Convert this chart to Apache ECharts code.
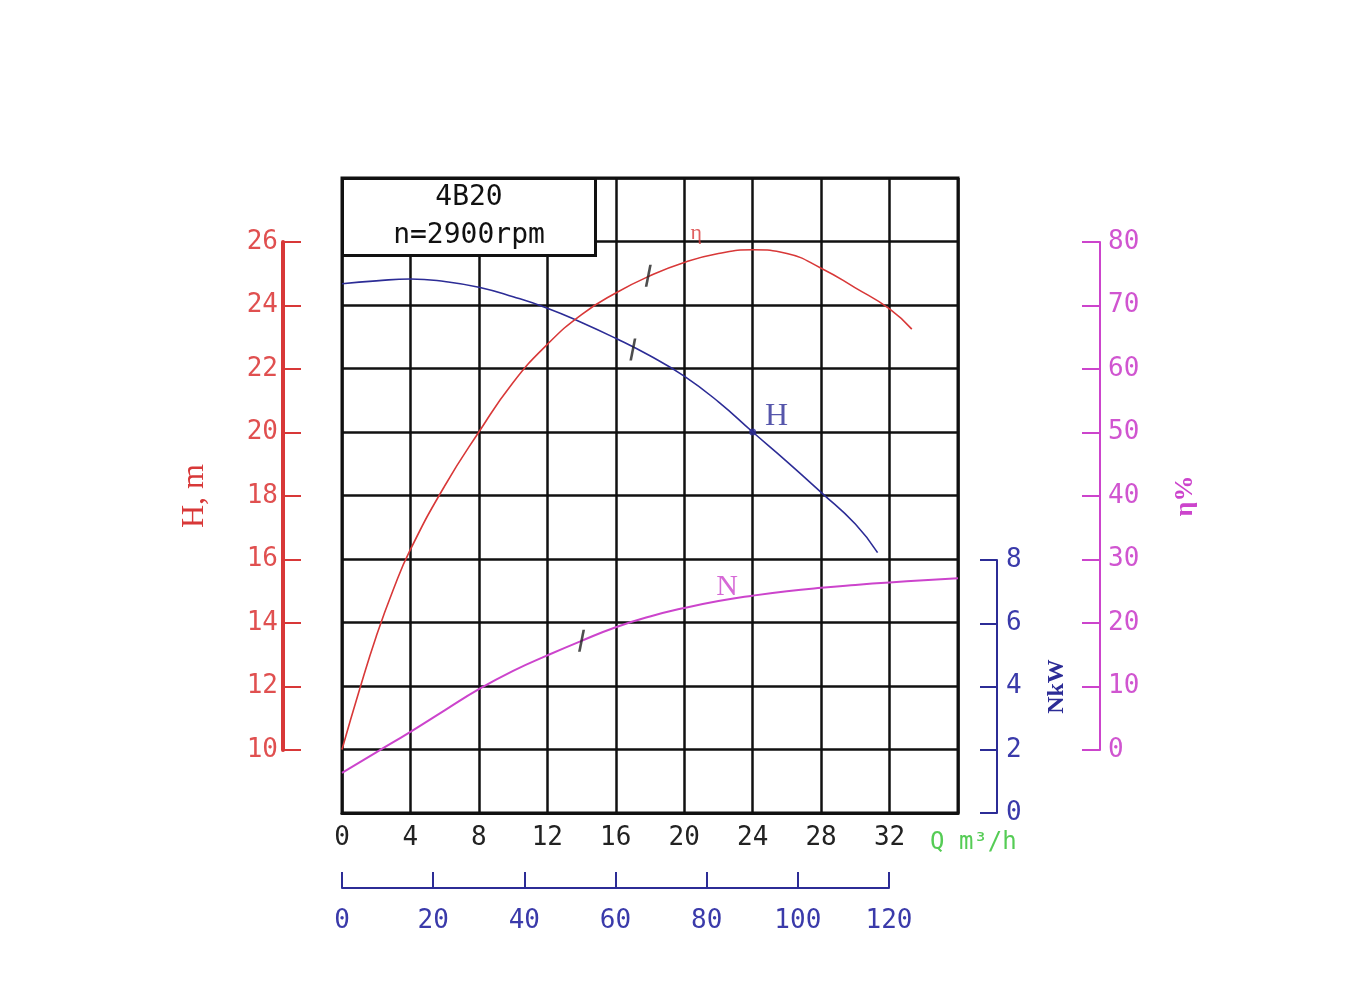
<!DOCTYPE html>
<html>
<head>
<meta charset="utf-8">
<title>4B20 performance curve</title>
<script src="https://cdn.jsdelivr.net/npm/echarts@6/dist/echarts.min.js"></script>
<style>
  html, body { margin: 0; padding: 0; background: #fff; }
  #chart { width: 1365px; height: 1000px; }
</style>
</head>
<body>
<div id="chart"></div>
<script>
// head H (m) against flow Q (m3/h)
const headQ = [0, 2, 4, 6, 8, 10, 12, 14, 16, 18, 20, 22, 24, 26, 28, 30, 31.3]
const headH = [24.67, 24.76, 24.82, 24.74, 24.56, 24.26, 23.9, 23.45, 22.95, 22.4, 21.76, 20.95, 20.0, 19.07, 18.1, 17.1, 16.2]

// efficiency eta (%)
const effQ = [0, 1, 2, 3, 4, 6, 8, 10, 12, 14, 16, 18, 20, 22, 24, 26, 28, 30, 32, 33.3]
const effEta = [0, 9.2, 17.8, 25.2, 31.5, 41.5, 50, 57.8, 63.8, 68.5, 71.9, 74.6, 76.7, 78.1, 78.7, 78.1, 75.8, 72.7, 69.4, 66.2]

// shaft power N (kW)
const powerQ = [0, 2, 4, 6, 8, 10, 12, 14, 16, 18, 20, 22, 24, 26, 28, 30, 32, 34, 36]
const powerN = [1.27, 1.92, 2.57, 3.25, 3.92, 4.5, 4.99, 5.45, 5.88, 6.22, 6.49, 6.71, 6.88, 7.02, 7.13, 7.22, 7.3, 7.37, 7.43]

// small duty-range marks on the curves [Q, value]
const headMark = [17.0, 22.6]
const effMark = [17.9, 74.6]
const powerMark = [14.0, 5.45]
const ratedPoint = [24, 20]

// curve names and where they sit [Q, value]
const headLabel = [25.4, 20.5]
const effLabel = [20.7, 81.3]
const powerLabel = [22.5, 7.15]

const mono = '"DejaVu Sans Mono", "Liberation Mono", monospace'
const serif = '"Liberation Serif", "DejaVu Serif", serif'
const red = '#d83838'
const blue = '#2c2c96'
const magenta = '#cc44cc'
const green = '#55cc55'

const zip = (xs, ys) => xs.map((x, i) => [x, ys[i]])
const markSymbol = 'path://M3,0L4.5,0L2,14L0.5,14Z'

const chart = echarts.init(document.getElementById('chart'))

const hiddenX = (gridIndex) => ({ gridIndex, type: 'value', show: false, min: 0, max: 1 })

const option = {
  backgroundColor: '#fff',
  animation: false,
  title: [
    {
      text: '4B20',
      subtext: 'n=2900rpm',
      left: 418,
      top: 178,
      textAlign: 'center',
      padding: [4, 51, 4, 51],
      itemGap: 6,
      backgroundColor: '#fff',
      borderColor: '#111',
      borderWidth: 3,
      textStyle: { fontFamily: mono, fontSize: 28, fontWeight: 'normal', color: '#111', lineHeight: 32 },
      subtextStyle: { fontFamily: mono, fontSize: 28, color: '#111', lineHeight: 32 }
    },
    {
      text: 'Q m³/h',
      left: 930,
      top: 831,
      padding: 0,
      textStyle: { fontFamily: mono, fontSize: 24, fontWeight: 'normal', color: green }
    }
  ],
  grid: [
    { left: 342, top: 178, width: 616, height: 635, show: true, borderColor: '#111', borderWidth: 3, outerBoundsMode: 'none' },
    { left: 342, top: 242, width: 616, height: 508, outerBoundsMode: 'none' },
    { left: 342, top: 560, width: 616, height: 253, outerBoundsMode: 'none' },
    { left: 342, top: 242, width: 616, height: 508, outerBoundsMode: 'none' },
    { left: 342, top: 800, width: 547, height: 88, outerBoundsMode: 'none' }
  ],
  xAxis: [
    {
      gridIndex: 0,
      type: 'value',
      min: 0,
      max: 36,
      interval: 4,
      axisLine: { show: true, onZero: false, lineStyle: { color: '#111', width: 3 } },
      axisTick: { show: false },
      splitLine: { show: true, lineStyle: { color: '#111', width: 2.5 } },
      axisLabel: {
        color: '#222',
        fontFamily: mono,
        fontSize: 26,
        margin: 12,
        formatter: (v) => (v === 36 ? '' : String(v))
      }
    },
    hiddenX(1),
    hiddenX(2),
    hiddenX(3),
    {
      gridIndex: 4,
      type: 'value',
      min: 0,
      max: 120,
      interval: 20,
      position: 'bottom',
      axisLine: { show: true, onZero: false, lineStyle: { color: blue, width: 2 } },
      axisTick: { show: true, inside: true, length: 16, lineStyle: { color: blue, width: 2 } },
      splitLine: { show: false },
      axisLabel: { color: '#3a3aaa', fontFamily: mono, fontSize: 26, margin: 20 }
    }
  ],
  yAxis: [
    {
      gridIndex: 0,
      type: 'value',
      min: 8,
      max: 28,
      interval: 2,
      axisLine: { show: false },
      axisTick: { show: false },
      axisLabel: { show: false },
      splitLine: { show: true, lineStyle: { color: '#111', width: 2.5 } }
    },
    { gridIndex: 0, type: 'value', min: -10, max: 90, show: false },
    { gridIndex: 0, type: 'value', min: 0, max: 20.1, show: false },
    {
      gridIndex: 1,
      type: 'value',
      min: 10,
      max: 26,
      interval: 2,
      position: 'left',
      offset: 59,
      axisLine: { show: true, onZero: false, lineStyle: { color: red, width: 4 } },
      axisTick: { show: true, inside: true, length: 18, lineStyle: { color: red, width: 2 } },
      axisLabel: { color: '#e05050', fontFamily: mono, fontSize: 26, margin: 5 },
      splitLine: { show: false },
      name: 'H, m',
      nameLocation: 'middle',
      nameRotate: 90,
      nameGap: 72,
      nameMoveOverlap: false,
      nameTextStyle: { color: red, fontFamily: serif, fontSize: 32 }
    },
    {
      gridIndex: 2,
      type: 'value',
      min: 0,
      max: 8,
      interval: 2,
      position: 'right',
      offset: 39,
      axisLine: { show: true, onZero: false, lineStyle: { color: blue, width: 2 } },
      axisTick: { show: true, inside: true, length: 17, lineStyle: { color: blue, width: 2 } },
      axisLabel: { color: '#3a3aaa', fontFamily: mono, fontSize: 26, margin: 9 },
      splitLine: { show: false },
      name: 'NkW',
      nameLocation: 'middle',
      nameRotate: 90,
      nameGap: 48,
      nameMoveOverlap: false,
      nameTextStyle: { color: blue, fontFamily: serif, fontSize: 24, fontWeight: 'bold' }
    },
    {
      gridIndex: 3,
      type: 'value',
      min: 0,
      max: 80,
      interval: 10,
      position: 'right',
      offset: 142,
      axisLine: { show: true, onZero: false, lineStyle: { color: magenta, width: 2 } },
      axisTick: { show: true, inside: true, length: 18, lineStyle: { color: magenta, width: 2 } },
      axisLabel: { color: '#d055d0', fontFamily: mono, fontSize: 26, margin: 8 },
      splitLine: { show: false },
      name: 'η%',
      nameLocation: 'middle',
      nameRotate: 90,
      nameGap: 72,
      nameMoveOverlap: false,
      nameTextStyle: { color: magenta, fontFamily: serif, fontSize: 26, fontWeight: 'bold' }
    },
    { gridIndex: 4, type: 'value', show: false, min: 0, max: 1 }
  ],
  series: [
    {
      name: 'H',
      type: 'line',
      xAxisIndex: 0,
      yAxisIndex: 0,
      data: zip(headQ, headH),
      smooth: true,
      showSymbol: false,
      lineStyle: { color: blue, width: 1.6 },
      z: 3
    },
    {
      name: 'η',
      type: 'line',
      xAxisIndex: 0,
      yAxisIndex: 1,
      data: zip(effQ, effEta),
      smooth: true,
      showSymbol: false,
      lineStyle: { color: red, width: 1.6 },
      z: 3
    },
    {
      name: 'N',
      type: 'line',
      xAxisIndex: 0,
      yAxisIndex: 2,
      data: zip(powerQ, powerN),
      smooth: true,
      showSymbol: false,
      lineStyle: { color: magenta, width: 2 },
      z: 3
    },
    // duty range marks
    { type: 'scatter', xAxisIndex: 0, yAxisIndex: 0, data: [headMark], symbol: markSymbol, symbolSize: [7, 22], itemStyle: { color: '#222' }, z: 4 },
    { type: 'scatter', xAxisIndex: 0, yAxisIndex: 1, data: [effMark], symbol: markSymbol, symbolSize: [7, 22], itemStyle: { color: '#222' }, z: 4 },
    { type: 'scatter', xAxisIndex: 0, yAxisIndex: 2, data: [powerMark], symbol: markSymbol, symbolSize: [7, 22], itemStyle: { color: '#222' }, z: 4 },
    { type: 'scatter', xAxisIndex: 0, yAxisIndex: 0, data: [ratedPoint], symbolSize: 7, itemStyle: { color: blue }, z: 4 },
    // curve names
    {
      type: 'scatter', xAxisIndex: 0, yAxisIndex: 0, symbolSize: 0, z: 5,
      data: [{ value: headLabel, name: 'H' }],
      label: { show: true, position: 'inside', formatter: '{b}', color: blue, fontFamily: serif, fontSize: 32 }
    },
    {
      type: 'scatter', xAxisIndex: 0, yAxisIndex: 1, symbolSize: 0, z: 5,
      data: [{ value: effLabel, name: 'η' }],
      label: { show: true, position: 'inside', formatter: '{b}', color: red, fontFamily: serif, fontSize: 22 }
    },
    {
      type: 'scatter', xAxisIndex: 0, yAxisIndex: 2, symbolSize: 0, z: 5,
      data: [{ value: powerLabel, name: 'N' }],
      label: { show: true, position: 'inside', formatter: '{b}', color: magenta, fontFamily: serif, fontSize: 30 }
    }
  ]
}

chart.setOption(option)
</script>
</body>
</html>
